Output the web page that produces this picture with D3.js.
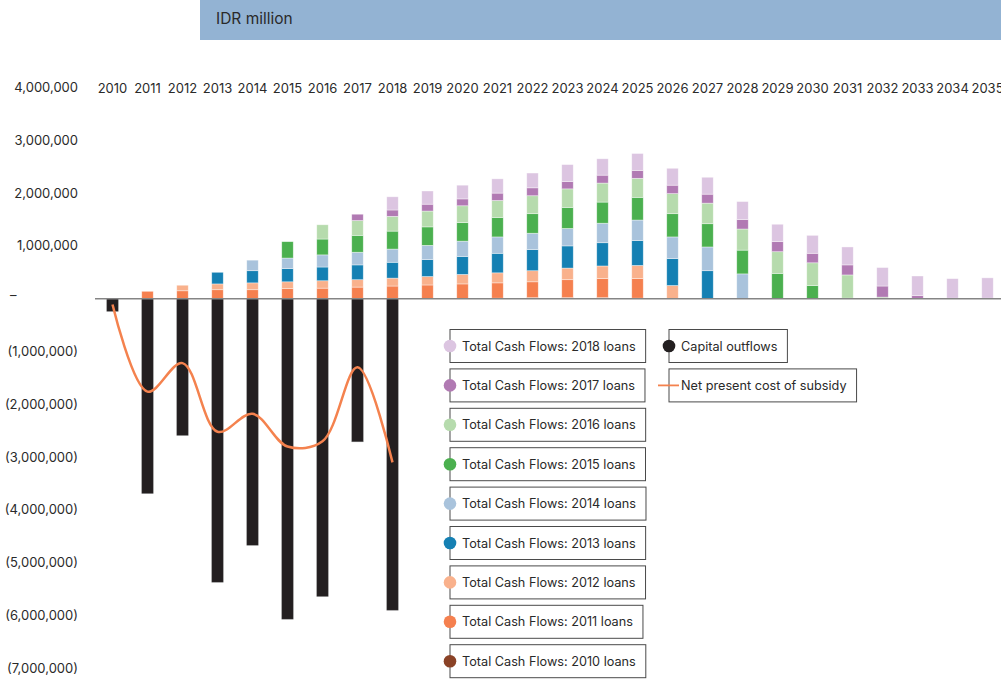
<!DOCTYPE html>
<html>
<head>
<meta charset="utf-8">
<script src="https://cdn.jsdelivr.net/npm/d3@7/dist/d3.min.js"></script>
<style>
  html, body { margin: 0; padding: 0; background: #fff; }
  svg { display: block; font-family: Inter, "Noto Sans", sans-serif; }
</style>
</head>
<body>
<svg id="chart" width="1001" height="679"></svg>
<script>
// Years on the x axis
const years = d3.range(2010, 2036).map(String);

// Total cash flows by loan cohort (IDR million), one value per year 2010–2035
const loans2010 = [0,0,0,0,0,0,0,0,0,0,5000,10000,20000,20000,20000,10000,0,0,0,0,0,0,0,0,0,0];
const loans2011 = [0,140000,150000,170000,170000,190000,200000,220000,240000,260000,275000,290000,300000,340000,360000,370000,0,0,0,0,0,0,0,0,0,0];
const loans2012 = [0,0,105000,110000,130000,130000,140000,140000,150000,160000,180000,190000,210000,220000,240000,250000,250000,0,0,0,0,0,0,0,0,0];
const loans2013 = [0,0,0,220000,230000,250000,260000,280000,300000,320000,340000,370000,400000,420000,440000,470000,510000,530000,0,0,0,0,0,0,0,0];
const loans2014 = [0,0,0,0,200000,200000,230000,240000,250000,270000,290000,310000,310000,330000,370000,390000,410000,450000,470000,0,0,0,0,0,0,0];
const loans2015 = [0,0,0,0,0,310000,300000,320000,340000,350000,350000,370000,370000,400000,400000,430000,440000,440000,450000,480000,250000,10000,0,0,0,0];
const loans2016 = [0,0,0,0,0,0,270000,280000,280000,300000,320000,320000,340000,350000,360000,360000,380000,390000,400000,410000,430000,440000,30000,0,0,0];
const loans2017 = [0,0,0,0,0,0,0,120000,120000,130000,130000,140000,150000,140000,150000,150000,160000,170000,180000,190000,180000,190000,210000,60000,10000,10000];
const loans2018 = [0,0,0,0,0,0,0,0,250000,250000,260000,270000,280000,320000,310000,320000,320000,320000,340000,330000,340000,340000,350000,370000,370000,385000];

// Capital outflows and net present cost of subsidy, 2010–2018
const outflowYears = ["2010","2011","2012","2013","2014","2015","2016","2017","2018"];
const capitalOutflows = [-240000,-3690000,-2590000,-5370000,-4670000,-6070000,-5640000,-2710000,-5900000];
const netPresentCost = [-110000,-1760000,-1220000,-2520000,-2180000,-2800000,-2700000,-1300000,-3100000];

// Y axis ticks
const yTicks = [4000000,3000000,2000000,1000000,0,-1000000,-2000000,-3000000,-4000000,-5000000,-6000000,-7000000];

const cohortKeys = ["2010","2011","2012","2013","2014","2015","2016","2017","2018"];
const cohortSeries = [loans2010,loans2011,loans2012,loans2013,loans2014,loans2015,loans2016,loans2017,loans2018];
const cohortColors = {
  "2010": "#8a4226",
  "2011": "#f5804f",
  "2012": "#f9b18c",
  "2013": "#1580b3",
  "2014": "#a9c3dc",
  "2015": "#4bb04f",
  "2016": "#b6dbad",
  "2017": "#b17ab3",
  "2018": "#dcc5e1"
};

const textColor = "#2a2a2a";
const svg = d3.select("#chart");

// Header band
svg.append("rect").attr("x", 200).attr("y", 0).attr("width", 801).attr("height", 40).attr("fill", "#93b3d3");
svg.append("text").attr("x", 216).attr("y", 24).attr("font-size", 15.5).attr("fill", textColor).text("IDR million");

const x = d3.scalePoint().domain(years).range([95, 1005]).padding(0.5);
const y = d3.scaleLinear().domain([-7000000, 4000000]).range([668.3, 87.5]);
const barW = 11.5;

// Table for stacking
const table = years.map((yr, i) => {
  const row = { year: yr };
  cohortKeys.forEach((k, j) => { row[k] = cohortSeries[j][i]; });
  return row;
});
const stacked = d3.stack().keys(cohortKeys)(table);

const gBars = svg.append("g");
stacked.forEach(layer => {
  gBars.append("g")
    .attr("fill", cohortColors[layer.key])
    .selectAll("rect")
    .data(layer.filter(d => d[1] - d[0] > 0))
    .join("rect")
    .attr("x", d => x(d.data.year) - barW / 2)
    .attr("width", barW)
    .attr("y", d => y(d[1]))
    .attr("height", d => y(d[0]) - y(d[1]))
    .attr("stroke", "rgba(255,255,255,0.55)")
    .attr("stroke-width", 0.7);
});

// Capital outflows
svg.append("g")
  .selectAll("rect")
  .data(outflowYears.map((yr, i) => ({ year: yr, v: capitalOutflows[i] })))
  .join("rect")
  .attr("x", d => x(d.year) - barW / 2)
  .attr("width", barW)
  .attr("y", y(0))
  .attr("height", d => y(d.v) - y(0))
  .attr("fill", "#231f20")
  .attr("stroke", "rgba(120,120,120,0.6)")
  .attr("stroke-width", 0.6);

// Zero line
svg.append("line")
  .attr("x1", 95).attr("x2", 1001)
  .attr("y1", y(0)).attr("y2", y(0))
  .attr("stroke", "#858585").attr("stroke-width", 1.6);

// Net present cost line
const line = d3.line()
  .x((d, i) => x(outflowYears[i]))
  .y(d => y(d))
  .curve(d3.curveCatmullRom.alpha(0.5));
svg.append("path")
  .datum(netPresentCost)
  .attr("d", line)
  .attr("fill", "none")
  .attr("stroke", "#f4824e")
  .attr("stroke-width", 2.5);

// Year labels along the top
svg.append("g")
  .selectAll("text")
  .data(years)
  .join("text")
  .attr("x", d => x(d))
  .attr("y", y(4000000) + 5.5)
  .attr("text-anchor", "middle")
  .attr("font-size", 13)
  .attr("fill", textColor)
  .text(d => d);

// Y axis labels
const fmt = d3.format(",");
svg.append("g")
  .selectAll("text")
  .data(yTicks)
  .join("text")
  .attr("x", d => d === 0 ? 10 : 78)
  .attr("y", d => d === 0 ? y(d) + 1 : y(d) + 4.5)
  .attr("text-anchor", d => d === 0 ? "start" : "end")
  .attr("font-size", 13)
  .attr("fill", textColor)
  .text(d => d === 0 ? "–" : d < 0 ? "(" + fmt(-d) + ")" : fmt(d));

// Legend
const legendLeft = cohortKeys.slice().reverse().map(k => ({
  label: "Total Cash Flows: " + k + " loans", color: cohortColors[k], type: "dot"
}));
const legendRight = [
  { label: "Capital outflows", color: "#231f20", type: "dot" },
  { label: "Net present cost of subsidy", color: "#f4824e", type: "line" }
];
function drawLegend(items, x0, y0) {
  const step = 39.4;
  items.forEach((it, i) => {
    const cy = y0 + i * step;
    const g = svg.append("g");
    const box = g.append("rect").attr("x", x0).attr("y", cy - 16.5).attr("height", 33)
      .attr("fill", "#fff").attr("stroke", "#4a4a4a").attr("stroke-width", 1);
    const t = g.append("text").attr("x", x0 + 12).attr("y", cy + 4.5)
      .attr("font-size", 12.7).attr("fill", textColor).text(it.label);
    const w = t.node().getComputedTextLength();
    box.attr("width", w + 22);
    if (it.type === "dot") {
      g.append("circle").attr("cx", x0).attr("cy", cy).attr("r", 6.3).attr("fill", it.color);
    } else {
      g.append("line").attr("x1", x0 - 11).attr("x2", x0 + 10).attr("y1", cy).attr("y2", cy)
        .attr("stroke", it.color).attr("stroke-width", 1.8);
    }
  });
}
drawLegend(legendLeft, 450, 346);
drawLegend(legendRight, 669, 346);
</script>
</body>
</html>
